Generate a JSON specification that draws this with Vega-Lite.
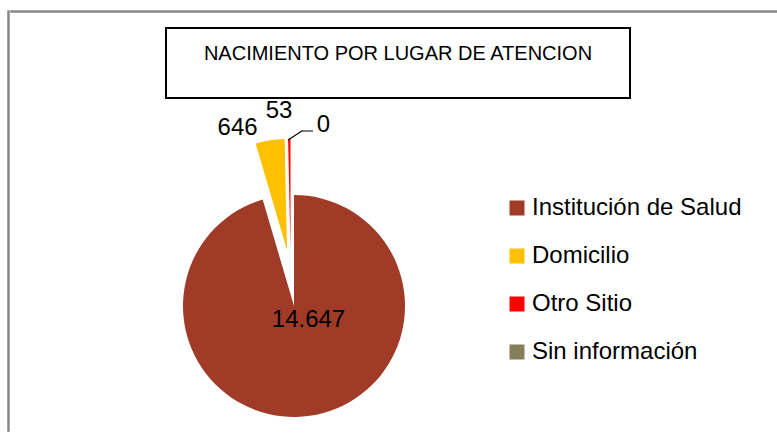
{
  "$schema": "https://vega.github.io/schema/vega-lite/v6.json",
  "padding": {"left": 7, "top": 10, "right": 0, "bottom": 0},
  "background": "white",
  "config": {
    "locale": {"number": {"decimal": ",", "thousands": ".", "grouping": [3], "currency": ["$", ""]}},
    "font": "Liberation Sans",
    "text": {"font": "Liberation Sans", "color": "#000000"}
  },
  "datasets": {
    "nacimientos": [
      {"lugar": "Institución de Salud", "valor": 14647},
      {"lugar": "Domicilio", "valor": 646},
      {"lugar": "Otro Sitio", "valor": 53},
      {"lugar": "Sin información", "valor": 0}
    ],
    "titulo": [{"texto": "NACIMIENTO POR LUGAR DE ATENCION"}],
    "vacio": []
  },
  "spacing": 0,
  "hconcat": [
    {
      "data": {"name": "vacio"},
      "width": 1,
      "height": 420,
      "view": {"stroke": "#878787", "strokeWidth": 1.5, "fill": null},
      "mark": "rect"
    },
    {
      "spacing": 14,
      "vconcat": [
        {
          "data": {"name": "vacio"},
          "width": 767,
          "height": 1,
          "view": {"stroke": "#878787", "strokeWidth": 1.5, "fill": null},
          "mark": "rect"
        },
        {
          "spacing": 0,
          "vconcat": [
            {
              "spacing": 153,
              "hconcat": [
                {
                  "data": {"name": "vacio"},
                  "width": 1,
                  "height": 1,
                  "view": {"stroke": null, "fill": null},
                  "mark": "rect"
                },
                {
                  "data": {"name": "titulo"},
                  "width": 464,
                  "height": 70,
                  "view": {"stroke": "#000000", "strokeWidth": 2, "fill": null},
                  "mark": {"type": "text", "fontSize": 20, "baseline": "alphabetic", "align": "center", "dy": -3},
                  "encoding": {"text": {"field": "texto", "type": "nominal"}}
                }
              ]
            },
            {
              "data": {"name": "nacimientos"},
              "width": 566,
              "height": 250,
              "view": {"stroke": null, "fill": null},
              "encoding": {
                "theta": {"field": "valor", "type": "quantitative", "stack": true},
                "order": {"field": "valor", "type": "quantitative", "sort": "descending"}
              },
              "layer": [
                {
                  "mark": {"type": "arc", "radius": 111},
                  "encoding": {
                    "color": {
                      "field": "lugar",
                      "type": "nominal",
                      "scale": {
                        "domain": ["Institución de Salud", "Domicilio", "Otro Sitio", "Sin información"],
                        "range": ["#A03B28", "#FFC000", "#FF0000", "#84805A"]
                      },
                      "legend": {
                        "orient": "none",
                        "legendX": 497,
                        "legendY": 185,
                        "title": null,
                        "padding": 0,
                        "symbolType": "square",
                        "symbolSize": 225,
                        "symbolStrokeWidth": 0,
                        "symbolOpacity": 1,
                        "labelFont": "Liberation Sans",
                        "labelFontSize": 24,
                        "labelColor": "#000000",
                        "labelLimit": 400,
                        "labelOffset": 3,
                        "rowPadding": 24
                      }
                    },
                    "opacity": {"condition": {"test": "datum.lugar === 'Institución de Salud'", "value": 1}, "value": 0}
                  }
                },
                {
                  "mark": {"type": "arc", "radius": 111, "xOffset": -7, "yOffset": -56},
                  "encoding": {
                    "color": {"field": "lugar", "type": "nominal"},
                    "opacity": {"condition": {"test": "datum.lugar === 'Domicilio'", "value": 1}, "value": 0}
                  }
                },
                {
                  "mark": {"type": "arc", "radius": 111, "xOffset": -3.5, "yOffset": -56},
                  "encoding": {
                    "color": {"field": "lugar", "type": "nominal"},
                    "opacity": {"condition": {"test": "datum.lugar === 'Otro Sitio'", "value": 1}, "value": 0}
                  }
                },
                {
                  "mark": {"type": "arc", "radius": 17, "radius2": 0, "thetaOffset": 1.0, "theta2Offset": 1.0, "xOffset": -6, "yOffset": -166, "fill": null, "stroke": "#000000", "strokeWidth": 1.2},
                  "encoding": {
                    "detail": {"field": "lugar", "type": "nominal"},
                    "opacity": {"condition": {"test": "datum.lugar === 'Sin información'", "value": 1}, "value": 0}
                  }
                },
                {
                  "mark": {"type": "arc", "radius": 11, "radius2": 0, "thetaOffset": 1.5708, "theta2Offset": 1.5708, "xOffset": 8, "yOffset": -175, "fill": null, "stroke": "#000000", "strokeWidth": 1.2},
                  "encoding": {
                    "detail": {"field": "lugar", "type": "nominal"},
                    "opacity": {"condition": {"test": "datum.lugar === 'Sin información'", "value": 1}, "value": 0}
                  }
                },
                {
                  "mark": {"type": "text", "radius": 0, "fontSize": 24, "align": "center", "baseline": "alphabetic", "dx": 14.5, "dy": 21},
                  "encoding": {
                    "detail": {"field": "lugar", "type": "nominal"},
                    "text": {"field": "valor", "type": "quantitative", "format": ",.0f"},
                    "opacity": {"condition": {"test": "datum.lugar === 'Institución de Salud'", "value": 1}, "value": 0}
                  }
                },
                {
                  "mark": {"type": "text", "radius": 185, "fontSize": 24, "align": "center", "baseline": "alphabetic", "dx": -28, "dy": 12},
                  "encoding": {
                    "detail": {"field": "lugar", "type": "nominal"},
                    "text": {"field": "valor", "type": "quantitative", "format": ",.0f"},
                    "opacity": {"condition": {"test": "datum.lugar === 'Domicilio'", "value": 1}, "value": 0}
                  }
                },
                {
                  "mark": {"type": "text", "radius": 185, "fontSize": 24, "align": "center", "baseline": "alphabetic", "dx": -13, "dy": -3},
                  "encoding": {
                    "detail": {"field": "lugar", "type": "nominal"},
                    "text": {"field": "valor", "type": "quantitative", "format": ",.0f"},
                    "opacity": {"condition": {"test": "datum.lugar === 'Otro Sitio'", "value": 1}, "value": 0}
                  }
                },
                {
                  "mark": {"type": "text", "radius": 185, "fontSize": 24, "align": "center", "baseline": "alphabetic", "dx": 29.5, "dy": 11},
                  "encoding": {
                    "detail": {"field": "lugar", "type": "nominal"},
                    "text": {"field": "valor", "type": "quantitative", "format": ",.0f"},
                    "opacity": {"condition": {"test": "datum.lugar === 'Sin información'", "value": 1}, "value": 0}
                  }
                }
              ]
            }
          ]
        }
      ]
    }
  ]
}
